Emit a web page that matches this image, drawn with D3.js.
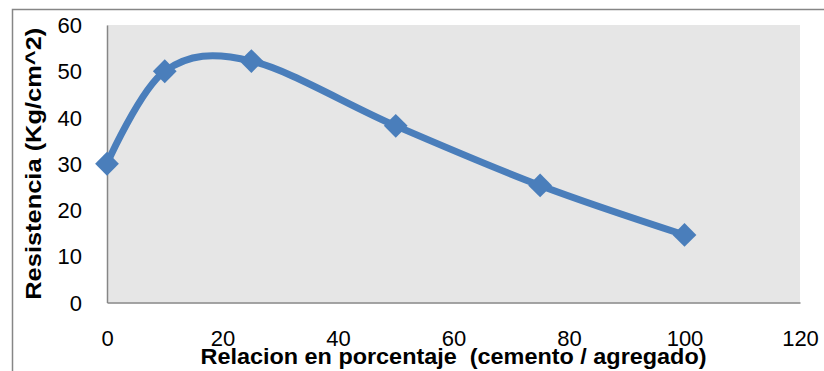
<!DOCTYPE html>
<html>
<head>
<meta charset="utf-8">
<script src="https://cdn.jsdelivr.net/npm/d3@7"></script>
<style>
  html, body { margin: 0; padding: 0; background: #fff; }
  svg { display: block; }
  text { font-family: "Liberation Sans", Arial, sans-serif; fill: #000; }
</style>
</head>
<body>
<svg id="chart" width="824" height="371"></svg>
<script>
// Porcentaje de cemento respecto al agregado
const relacion = [0, 10, 25, 50, 75, 100];
// Resistencia medida (Kg/cm^2)
const resistencia = [30, 50, 52.2, 38.2, 25.3, 14.6];
const xTicks = [0, 20, 40, 60, 80, 100, 120];
const yTicks = [0, 10, 20, 30, 40, 50, 60];
const xTitle = "Relacion en porcentaje  (cemento / agregado)";
const yTitle = "Resistencia (Kg/cm^2)";

const W = 824, H = 371;
const plot = { left: 107, top: 25, right: 800, bottom: 302.5 };

const svg = d3.select("#chart");

// chart frame (only top and left edges fall inside the view)
svg.append("path")
  .attr("d", `M12.5,${H} V9.5 H${W}`)
  .attr("fill", "none")
  .attr("stroke", "#868686")
  .attr("stroke-width", 1.5);

const x = d3.scaleLinear().domain([0, 120]).range([plot.left, plot.right]);
const y = d3.scaleLinear().domain([0, 60]).range([plot.bottom, plot.top]);

// plot area
svg.append("rect")
  .attr("x", plot.left).attr("y", plot.top)
  .attr("width", plot.right - plot.left)
  .attr("height", plot.bottom - plot.top)
  .attr("fill", "#e6e6e6");

// axes
const yAxis = svg.append("g")
  .attr("transform", `translate(${plot.left},0)`)
  .call(d3.axisLeft(y).tickValues(yTicks).tickSize(0).tickPadding(25).tickFormat(d3.format("d")));
const xAxis = svg.append("g")
  .attr("transform", `translate(0,${plot.bottom})`)
  .call(d3.axisBottom(x).tickValues(xTicks).tickSize(0).tickPadding(25).tickFormat(d3.format("d")));

[xAxis, yAxis].forEach(g => {
  g.select(".domain").attr("stroke", "#868686").attr("stroke-width", 1.5);
  g.selectAll("text")
    .attr("font-size", 22)
    .attr("font-family", "'Liberation Sans', Arial, sans-serif")
    .attr("fill", "#000");
});
xAxis.select(".domain").raise();
yAxis.selectAll("text").attr("dy", "0.35em");
xAxis.selectAll("text").attr("dy", "0.35em").attr("y", 36);

// series line (smoothed)
const pts = relacion.map((r, i) => [r, resistencia[i]]);
const line = d3.line()
  .x(d => x(d[0]))
  .y(d => y(d[1]))
  .curve(d3.curveCardinal.tension(0));

svg.append("path")
  .datum(pts)
  .attr("d", line)
  .attr("fill", "none")
  .attr("stroke", "#4a7ebb")
  .attr("stroke-width", 7)
  .attr("stroke-linejoin", "round");

// diamond markers
const diamond = d3.symbol().type(d3.symbolDiamond2).size(360);
svg.append("g")
  .selectAll("path")
  .data(pts)
  .join("path")
  .attr("transform", d => `translate(${x(d[0])},${y(d[1])})`)
  .attr("d", diamond)
  .attr("fill", "#4a7ebb");

// axis titles
svg.append("text")
  .attr("x", (plot.left + plot.right) / 2)
  .attr("y", 364)
  .attr("text-anchor", "middle")
  .attr("font-size", 22)
  .attr("font-weight", "bold")
  .attr("textLength", 506)
  .attr("lengthAdjust", "spacingAndGlyphs")
  .style("white-space", "pre")
  .text(xTitle);

svg.append("text")
  .attr("transform", `translate(41,${(plot.top + plot.bottom) / 2}) rotate(-90)`)
  .attr("text-anchor", "middle")
  .attr("font-size", 22)
  .attr("font-weight", "bold")
  .attr("textLength", 272)
  .attr("lengthAdjust", "spacingAndGlyphs")
  .text(yTitle);
</script>
</body>
</html>
